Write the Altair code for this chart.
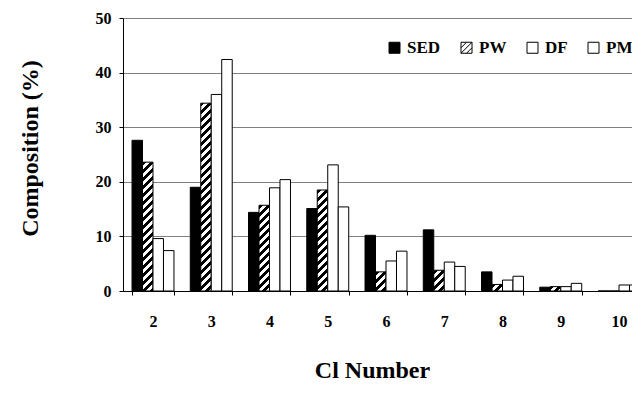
import altair as alt

categories = ["2", "3", "4", "5", "6", "7", "8", "9", "10"]
series_names = ["SED", "PW", "DF", "PM"]
SED = [27.6, 19.0, 14.4, 15.1, 10.2, 11.2, 3.5, 0.7, 0.0]
PW = [23.6, 34.4, 15.7, 18.5, 3.5, 3.8, 1.2, 0.8, 0.0]
DF = [9.6, 36.0, 18.9, 23.1, 5.5, 5.3, 2.0, 0.8, 1.1]
PM = [7.4, 42.4, 20.4, 15.4, 7.3, 4.5, 2.7, 1.4, 1.1]

FONT = "Liberation Serif, Times New Roman, DejaVu Serif, serif"
W, H = 526, 273
PAD_IN, PAD_OUT = 0.28, 0.155
BAR_W = W / (len(categories) - PAD_IN + 2 * PAD_OUT) * (1 - PAD_IN) / 4
PX_PER_UNIT = H / 50.0
PERIOD = 8.0


def hatch(v):
    w = BAR_W
    h = max(v * PX_PER_UNIT, 0.01)
    k = (w + h) / (w * w + h * h)
    n = (w + h) / PERIOD
    stops = []
    i = 0
    while i < n:
        a = i / n
        b = min((i + 0.5) / n, 1.0)
        c = min((i + 1) / n, 1.0)
        stops += [
            {"offset": a, "color": "black"},
            {"offset": b, "color": "black"},
            {"offset": b, "color": "white"},
            {"offset": c, "color": "white"},
        ]
        i += 1
    return {"gradient": "linear", "x1": 0, "y1": 0, "x2": k * w, "y2": k * h, "stops": stops}


values = {"SED": SED, "PW": PW, "DF": DF, "PM": PM}
plain_fill = {"SED": "black", "DF": "white", "PM": "white"}
records = []
for s in series_names:
    for c, v in zip(categories, values[s]):
        records.append({
            "cat": c, "series": s, "value": v,
            "fillv": hatch(v) if s == "PW" else plain_fill[s],
        })

legend_records = [{"cat": "2", "series": s, "value": -10} for s in series_names]

hatch_symbol = "M-1,-1H1V1H-1Z M-1,1L1,-1 M-1,0L0,-1 M0,1L1,0"

x_enc = alt.X(
    "cat:N", sort=categories,
    scale=alt.Scale(paddingInner=PAD_IN, paddingOuter=PAD_OUT),
    axis=alt.Axis(
        title="Cl Number", labelAngle=0, tickBand="extent", tickSize=4,
        tickColor="black", domainColor="black", grid=False,
        labelFont=FONT, labelFontWeight="bold", labelFontSize=16, labelColor="black",
        labelPadding=18,
        titleFont=FONT, titleFontWeight="bold", titleFontSize=24, titleColor="black",
        titleX=249, titleY=86, titleBaseline="alphabetic",
    ),
)
y_enc = alt.Y(
    "value:Q",
    scale=alt.Scale(domain=[0, 50], nice=False, zero=True),
    axis=alt.Axis(
        title="Composition (%)", values=[0, 10, 20, 30, 40, 50], grid=True,
        gridColor="#808080", gridWidth=1, tickSize=4, tickColor="black",
        domainColor="black", labelFont=FONT, labelFontWeight="bold",
        labelFontSize=16, labelColor="black", labelPadding=8,
        titleFont=FONT, titleFontWeight="bold", titleFontSize=24, titleColor="black",
        titleX=-93, titleY=130, titleBaseline="middle", titleAngle=-90,
    ),
)
xoff = alt.XOffset("series:N", sort=series_names,
                   scale=alt.Scale(paddingInner=0, paddingOuter=0))

bars = alt.Chart(alt.Data(values=records)).mark_bar(
    stroke="black", strokeWidth=1
).encode(
    x=x_enc, y=y_enc, xOffset=xoff,
    fill=alt.Fill("fillv:N", scale=None),
)

leg = alt.Legend(
    title=None, orient="none", legendX=263, legendY=21, direction="horizontal",
    symbolSize=121, symbolStrokeColor="black", symbolStrokeWidth=1,
    labelFont=FONT, labelFontWeight="bold", labelFontSize=17, labelColor="black",
    labelOffset=4, columnPadding=17, padding=0,
)

legend_pts = alt.Chart(alt.Data(values=legend_records)).mark_point(
    filled=True, clip=True, size=121, stroke="black", strokeWidth=1, opacity=1
).encode(
    x=alt.X("cat:N", sort=categories),
    y=alt.Y("value:Q"),
    xOffset=alt.XOffset("series:N", sort=series_names),
    color=alt.Color("series:N", sort=series_names,
                    scale=alt.Scale(domain=series_names, range=["black", "white", "white", "white"]),
                    legend=leg),
    shape=alt.Shape("series:N", sort=series_names,
                    scale=alt.Scale(domain=series_names,
                                    range=["square", hatch_symbol, "square", "square"]),
                    legend=leg),
)

chart = alt.layer(bars, legend_pts).properties(
    width=W, height=H,
    autosize=alt.AutoSizeParams(type="none"),
    padding={"left": 115, "top": 10, "right": -17, "bottom": 106},
    background="white",
).configure_view(stroke=None)

chart.save("out.html", embed_options={"renderer": "svg", "actions": False})
